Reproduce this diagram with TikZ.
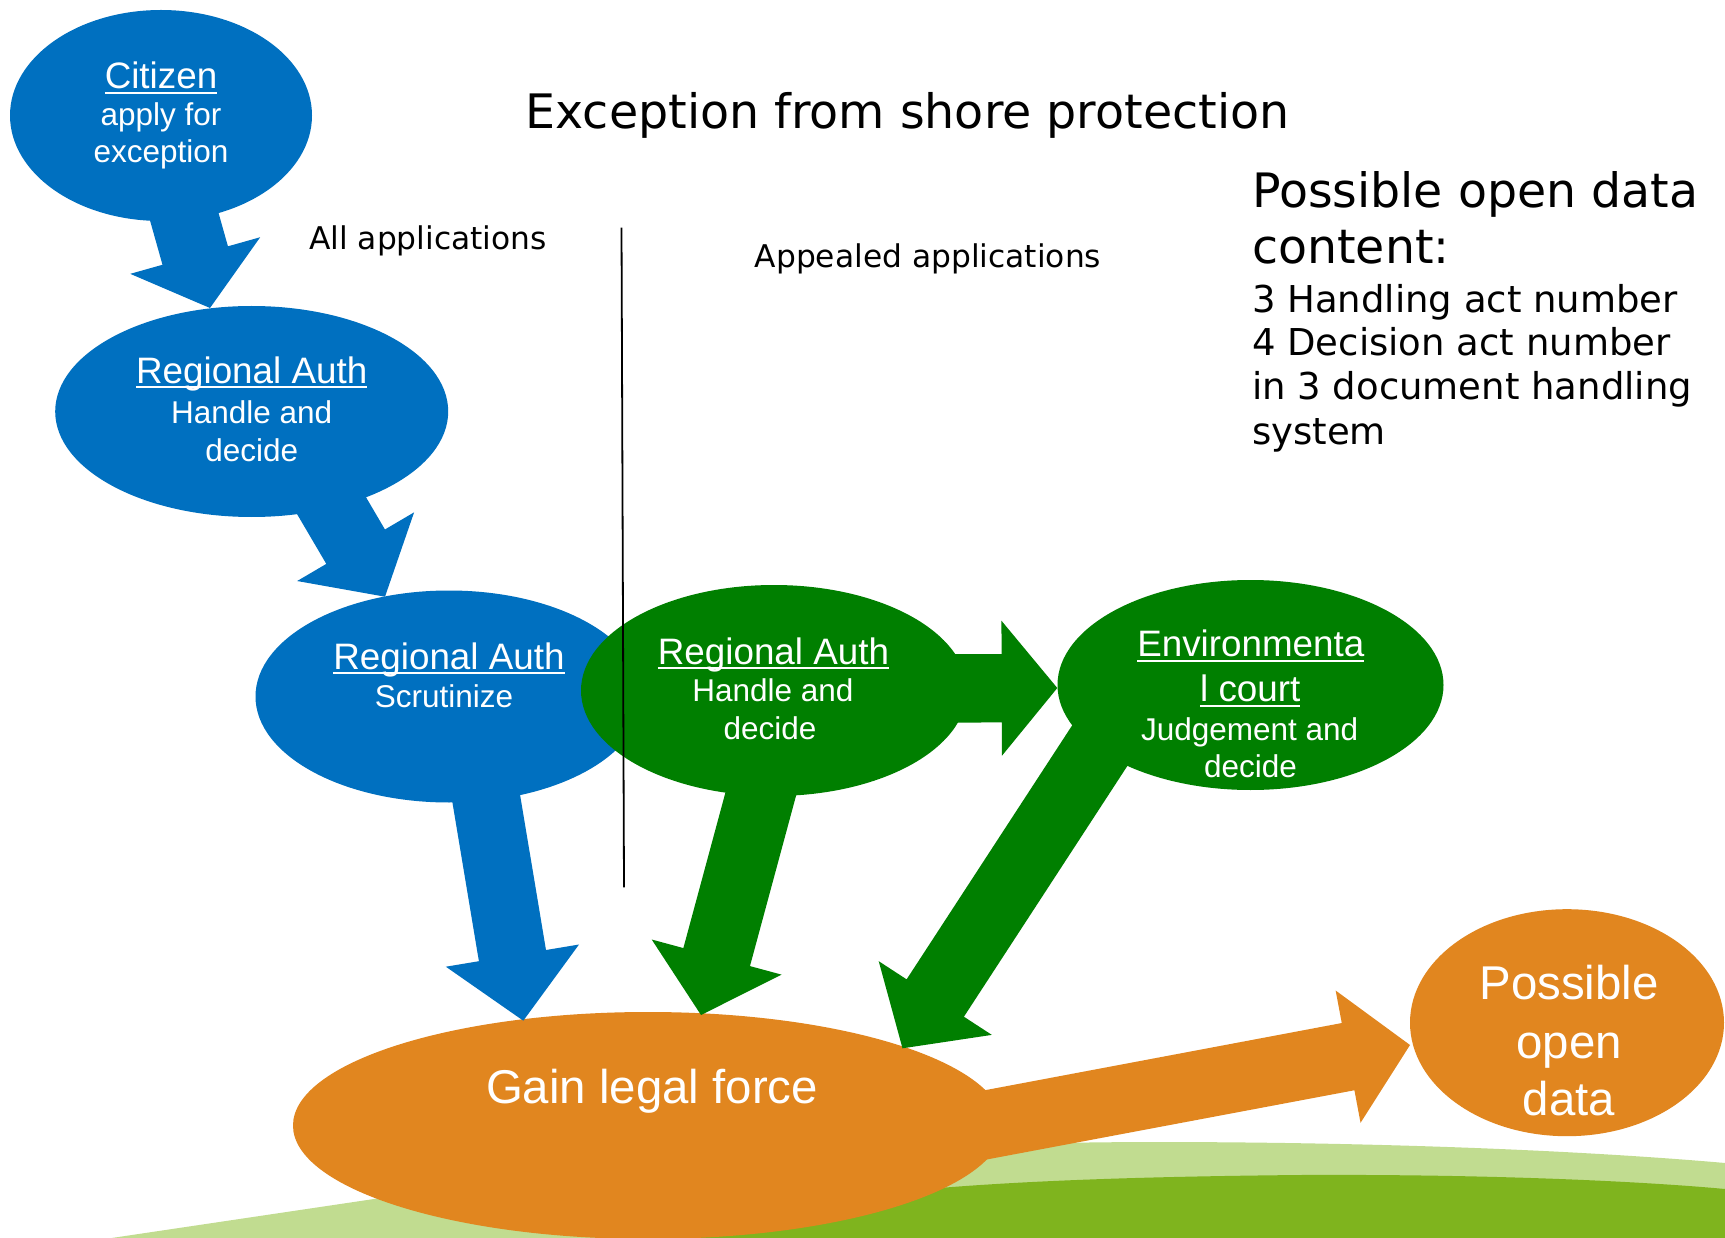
\documentclass[tikz,border=0pt]{standalone}
\usepackage{fontspec}
\setmainfont{Liberation Sans}
\newfontfamily\verd{DejaVu Sans}
\usetikzlibrary{shapes.geometric,calc}
\definecolor{cblue}{HTML}{0070C0}
\definecolor{cgreen}{HTML}{007F00}
\definecolor{corange}{HTML}{E1861F}
\definecolor{glight}{HTML}{C1DC90}
\definecolor{gdark}{HTML}{7FB41E}
\newcommand\myul[1]{\setbox0\hbox{#1}\rlap{\rule[-5pt]{\wd0}{2pt}}\box0}
% block arrow: start, tip, shaft half width, head half width, head length, colour
\newcommand\barrow[6]{%
  \fill[#6] let \p1=(#1), \p2=(#2),
    \n1={atan2(\y2-\y1,\x2-\x1)}
  in ($(\p1)+({\n1+90}:#3pt)$)
  -- ($(\p2)+({\n1+180}:#5pt)+({\n1+90}:#3pt)$)
  -- ($(\p2)+({\n1+180}:#5pt)+({\n1+90}:#4pt)$)
  -- (\p2)
  -- ($(\p2)+({\n1+180}:#5pt)+({\n1-90}:#4pt)$)
  -- ($(\p2)+({\n1+180}:#5pt)+({\n1-90}:#3pt)$)
  -- ($(\p1)+({\n1-90}:#3pt)$) -- cycle;}
\tikzset{
  bubble/.style={ellipse, inner sep=0pt, draw=none},
  etitle/.style={text=white, font=\fontsize{36.8}{40}\selectfont, anchor=base, inner sep=0pt},
  ebody/.style={text=white, font=\fontsize{31.5}{36}\selectfont, anchor=base, inner sep=0pt},
  ebig/.style={text=white, font=\fontsize{47.4}{55}\selectfont, anchor=base, inner sep=0pt},
  btitle/.style={font=\verd\fontsize{47.5}{56}\selectfont, anchor=base, inner sep=0pt},
  bapp/.style={font=\verd\fontsize{31.3}{36}\selectfont, anchor=base west, inner sep=0pt},
  bbig/.style={font=\verd\fontsize{47.4}{56}\selectfont, anchor=base west, inner sep=0pt},
  bsmall/.style={font=\verd\fontsize{37}{44}\selectfont, anchor=base west, inner sep=0pt},
}
\begin{document}
\begin{tikzpicture}[x=1pt,y=-1pt]
\useasboundingbox (0,0) rectangle (1725,1238);
\fill[white] (0,0) rectangle (1725,1238);
% ground
\fill[glight] (105,1239) -- (374,1199) .. controls (600,1165) and (850,1143) .. (1150,1142)
  .. controls (1400,1142) and (1600,1152) .. (1725,1163) -- (1725,1239) -- cycle;
\fill[gdark] (650,1239) .. controls (800,1190) and (1000,1178) .. (1300,1175)
  .. controls (1500,1174) and (1650,1182) .. (1725,1189) -- (1725,1239) -- cycle;
% bubbles
\node[bubble, fill=cblue, minimum width=302pt, minimum height=211pt] (cit) at (161,115.5) {};
\node[bubble, fill=cblue, minimum width=393pt, minimum height=211pt] (ra1) at (251.7,411.5) {};
\node[bubble, fill=cblue, minimum width=387pt, minimum height=212pt] (ra2) at (449,696.5) {};
\node[bubble, fill=cgreen, minimum width=386pt, minimum height=211pt] (ra3) at (774,690.5) {};
\node[bubble, fill=cgreen, minimum width=386pt, minimum height=210pt] (env) at (1250.5,685) {};
\node[bubble, fill=corange, minimum width=710pt, minimum height=227pt] (glf) at (648,1125.5) {};
\node[bubble, fill=corange, minimum width=314pt, minimum height=227pt] (pod) at (1567,1022.7) {};
% arrow end points
\coordinate (a1s) at (179,198);      \coordinate (a1t) at (210,308);
\coordinate (a2s) at (310,469);      \coordinate (a2t) at (385,596.7);
\coordinate (a3s) at (479.4,757.6);  \coordinate (a3t) at (523.3,1020.7);
\coordinate (a4s) at (768.8,764.3);  \coordinate (a4t) at (701,1015);
\coordinate (a5s) at (930,688.5);    \coordinate (a5t) at (1057.3,688);
\coordinate (a6s) at (1115.5,721.5); \coordinate (a6t) at (902.5,1048.3);
\coordinate (a7s) at (950,1131.6);   \coordinate (a7t) at (1410,1045);
\barrow{a1s}{a1t}{34}{67.5}{54.5}{cblue}
\barrow{a2s}{a2t}{34}{67.8}{58}{cblue}
\barrow{a3s}{a3t}{34}{67.5}{66}{cblue}
\barrow{a4s}{a4t}{34.5}{67.3}{60}{cgreen}
\barrow{a5s}{a5t}{34.2}{67.5}{55.6}{cgreen}
\barrow{a6s}{a6t}{34.2}{67.5}{60}{cgreen}
\barrow{a7s}{a7t}{34.2}{67.3}{63}{corange}
% bubble texts
\node[etitle] (cit1) at (161,89) {\myul{Citizen}};
\node[ebody] (cit2) at (161,125.7) {apply for};
\node[ebody] (cit3) at (161,163) {exception};
\node[etitle] (ra1a) at (251.7,383.3) {\myul{Regional Auth}};
\node[ebody] (ra1b) at (251.7,423.3) {Handle and};
\node[ebody] (ra1c) at (251.7,461.7) {decide};
\node[etitle] (ra2a) at (449,669) {\myul{Regional Auth}};
\node[ebody] (ra2b) at (444,707) {Scrutinize};
\node[etitle] (ra3a) at (773.5,664) {\myul{Regional Auth}};
\node[ebody] (ra3b) at (773,701.7) {Handle and};
\node[ebody] (ra3c) at (770,739.5) {decide};
\node[etitle] (env1) at (1250.8,656.8) {\myul{Environmenta}};
\node[etitle] (env2) at (1250.3,701.7) {\myul{l court}};
\node[ebody] (env3) at (1249.7,740.7) {Judgement and};
\node[ebody] (env4) at (1250.5,777.2) {decide};
\node[ebig] (glf1) at (652,1103.3) {Gain legal force};
\node[ebig] (pod1) at (1569,999.6) {Possible};
\node[ebig] (pod2) at (1569,1058.4) {open};
\node[ebig] (pod3) at (1569,1115) {data};
% black texts
\node[btitle] (title) at (907.5,128.5) {Exception from shore protection};
\node[bapp] (allapp) at (309,250) {All applications};
\node[bapp] (appapp) at (754.6,268) {Appealed applications};
\node[bbig] (od1) at (1252,207.6) {Possible open data};
\node[bbig] (od2) at (1252,264) {content:};
\node[bsmall] (od3) at (1252,312.4) {3 Handling act number};
\node[bsmall] (od4) at (1252,355.9) {4 Decision act number};
\node[bsmall] (od5) at (1252,400) {in 3 document handling};
\node[bsmall] (od6) at (1252,444.8) {system};
% divider
\coordinate (vl1) at (621.5,227.7);
\coordinate (vl2) at (624,887.3);
\draw[line width=1.8pt] (vl1) -- (vl2);
\end{tikzpicture}
\end{document}
